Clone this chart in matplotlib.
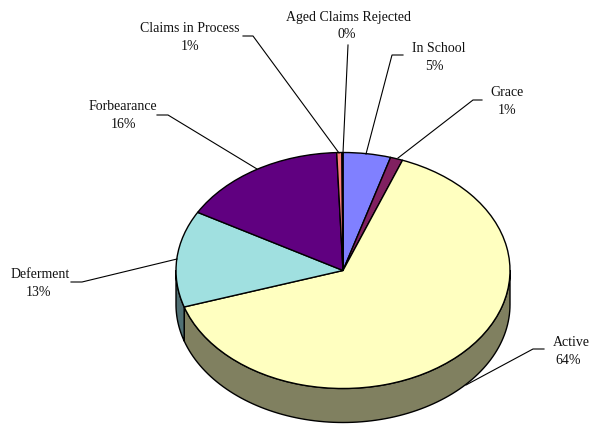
import matplotlib

matplotlib.use("Agg")

import matplotlib.pyplot as plt
import numpy as np

W, H = 590, 424
CX, CY, RX, RY = 343, 270.5, 167, 118
DEPTH = 34 / RY

categories = ["In School", "Grace", "Active", "Deferment", "Forbearance", "Claims in Process", "Aged Claims Rejected"]
shown_pct = ["5%", "1%", "64%", "13%", "16%", "1%", "0%"]
values = [4.6, 1.2, 64.2, 13.2, 16.2, 0.5, 0.1]
top_colors = ["#8080ff", "#802060", "#ffffc0", "#a0e0e0", "#600080", "#ff8080", "#0080c0"]
side_colors = ["#404080", "#401030", "#808060", "#507074", "#300040", "#804040", "#004060"]

# name centre x, percent centre x, first line y, leader line in pixels
label_pos = [(438.5, 434, 48), (507, 507, 92), (571, 568, 342), (40, 38, 274), (123, 123, 107), (190, 190, 28), (348, 347, 17)]
leaders = [
    [(403, 55), (392, 55), (366, 154)],
    [(482, 100), (473, 100), (398, 158)],
    [(544, 349), (533, 349), (466, 385)],
    [(71, 282), (82, 282), (177, 259)],
    [(157, 115), (168, 115), (257, 169)],
    [(243, 36), (253, 36), (339, 153)],
    [(348, 45), (348, 45), (343, 153)],
]

plt.rcParams["font.family"] = ["Liberation Serif", "DejaVu Serif"]

fig = plt.figure(figsize=(W / 100, H / 100), dpi=100)
ax = fig.add_axes([0, 0, 1, 1])

# side wall, only the part facing the viewer (90-270 deg clockwise from top)
edges = np.cumsum([0] + values) / sum(values) * 360
for start, end, color in zip(edges[:-1], edges[1:], side_colors):
    a, b = max(start, 90), min(end, 270)
    if b <= a:
        continue
    t = np.radians(90 - np.linspace(a, b, 100))
    x, y = np.cos(t), np.sin(t)
    ax.fill(np.r_[x, x[::-1]], np.r_[y, y[::-1] - DEPTH], facecolor=color, edgecolor="black", lw=1, joinstyle="round")

ax.pie(
    values,
    colors=top_colors,
    startangle=90,
    counterclock=False,
    wedgeprops={"edgecolor": "black", "linewidth": 1},
)
ax.set_aspect("auto")
ax.set_xlim(-CX / RX, (W - CX) / RX)
ax.set_ylim((CY - H) / RY, CY / RY)
ax.axis("off")

# overlay in pixel coordinates for labels and leader lines
over = fig.add_axes([0, 0, 1, 1], facecolor="none")
over.set_xlim(0, W)
over.set_ylim(H, 0)
over.axis("off")
for name, pct, (nx, px, ly), line in zip(categories, shown_pct, label_pos, leaders):
    over.text(nx, ly, name, ha="center", va="center", fontsize=10, color="#111111")
    over.text(px, ly + 18, pct, ha="center", va="center", fontsize=10, color="#111111")
    xs, ys = zip(*line)
    over.plot(xs, ys, color="black", lw=0.8, solid_joinstyle="miter")

fig.savefig("out.png", dpi=100)
plt.close(fig)
